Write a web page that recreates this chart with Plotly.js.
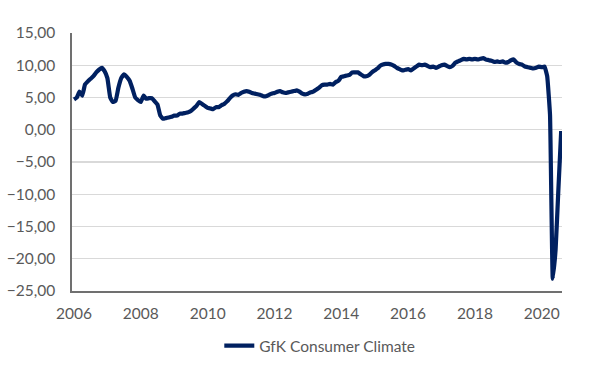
<!DOCTYPE html>
<html>
<head>
<meta charset="utf-8">
<script src="https://cdn.plot.ly/plotly-3.0.1.min.js"></script>
<style>
  html, body { margin: 0; padding: 0; background: #ffffff; }
  #chart { width: 615px; height: 365px; }
</style>
</head>
<body>
<div id="chart"></div>
<script>
// Monthly series, January 2006 to August 2020
const startYear = 2006;
const seriesName = "GfK Consumer Climate";
const values2006 = [4.7, 5.0, 5.9, 5.3, 7.0, 7.5, 7.9, 8.3, 8.9, 9.3, 9.6, 9.1];
const values2007 = [8.0, 5.0, 4.3, 4.5, 6.5, 8.0, 8.6, 8.2, 7.6, 6.4, 5.0, 4.6];
const values2008 = [4.3, 5.3, 4.8, 4.9, 4.9, 4.4, 3.9, 2.2, 1.7, 1.8, 1.9, 2.0];
const values2009 = [2.2, 2.2, 2.5, 2.5, 2.6, 2.7, 2.9, 3.3, 3.7, 4.3, 4.0, 3.7];
const values2010 = [3.4, 3.3, 3.2, 3.5, 3.5, 3.8, 4.0, 4.4, 4.9, 5.3, 5.5, 5.4];
const values2011 = [5.7, 5.9, 6.0, 5.9, 5.7, 5.6, 5.5, 5.4, 5.2, 5.2, 5.4, 5.6];
const values2012 = [5.7, 5.9, 6.0, 5.8, 5.7, 5.8, 5.9, 6.0, 6.1, 5.9, 5.6, 5.5];
const values2013 = [5.6, 5.8, 5.9, 6.2, 6.5, 6.9, 7.0, 7.0, 7.1, 7.0, 7.4, 7.6];
const values2014 = [8.2, 8.3, 8.4, 8.5, 8.9, 8.9, 8.9, 8.6, 8.3, 8.3, 8.5, 8.9];
const values2015 = [9.2, 9.5, 9.9, 10.1, 10.2, 10.2, 10.1, 9.9, 9.6, 9.4, 9.2, 9.3];
const values2016 = [9.4, 9.2, 9.5, 9.8, 10.1, 10.0, 10.1, 9.9, 9.7, 9.8, 9.6, 9.8];
const values2017 = [10.0, 10.1, 9.9, 9.7, 9.9, 10.4, 10.6, 10.8, 11.0, 10.9, 11.0, 10.9];
const values2018 = [11.0, 10.9, 11.0, 11.1, 10.9, 10.8, 10.7, 10.5, 10.6, 10.5, 10.6, 10.4];
const values2019 = [10.5, 10.8, 10.9, 10.4, 10.2, 10.1, 9.8, 9.7, 9.6, 9.5, 9.6, 9.8];
const values2020 = [9.7, 9.8, 8.3, 2.3, -23.1, -18.6, -9.4, -0.2];

const yearlyValues = [values2006, values2007, values2008, values2009, values2010,
  values2011, values2012, values2013, values2014, values2015, values2016,
  values2017, values2018, values2019, values2020];

const tickYears = ["2006", "2008", "2010", "2012", "2014", "2016", "2018", "2020"];
const yTicks = [-25, -20, -15, -10, -5, 0, 5, 10, 15];

const dates = [];
const values = [];
yearlyValues.forEach((arr, yi) => {
  arr.forEach((v, mi) => {
    const mm = String(mi + 1).padStart(2, "0");
    dates.push((startYear + yi) + "-" + mm + "-01");
    values.push(v);
  });
});

const fontFamily = "Lato, 'Open Sans', sans-serif";
const grey = "#595959";

const trace = {
  x: dates,
  y: values,
  type: "scatter",
  mode: "lines",
  name: seriesName,
  line: { color: "#002060", width: 4.2, shape: "spline", smoothing: 0.3 },
  hoverinfo: "skip"
};

const layout = {
  width: 615,
  height: 365,
  margin: { l: 72, r: 53, t: 33, b: 74 },
  paper_bgcolor: "#ffffff",
  plot_bgcolor: "#ffffff",
  separators: ",.",
  font: { family: fontFamily, size: 15.5, color: grey },
  showlegend: true,
  legend: {
    orientation: "h",
    xref: "container",
    yref: "container",
    x: 0.52, xanchor: "center",
    y: 0.052, yanchor: "middle",
    itemwidth: 30,
    font: { family: fontFamily, size: 15.5, color: grey },
    bgcolor: "rgba(0,0,0,0)"
  },
  xaxis: {
    type: "date",
    range: ["2005-12-10", "2020-08-10"],
    tickmode: "array",
    tickvals: tickYears.map(y => y + "-01-01"),
    ticktext: tickYears,
    showgrid: false,
    zeroline: false,
    showline: true,
    linecolor: "#707070",
    linewidth: 1.6,
    ticks: "",
    ticklabelstandoff: 8,
    tickfont: { family: fontFamily, size: 15.5, color: grey }
  },
  yaxis: {
    range: [-25, 15],
    tickmode: "array",
    tickvals: yTicks,
    tickformat: ".2f",
    showgrid: true,
    gridcolor: "#d9d9d9",
    gridwidth: 1.3,
    zeroline: false,
    showline: true,
    linecolor: "#707070",
    linewidth: 1.6,
    ticks: "",
    ticklabelstandoff: 12,
    tickfont: { family: fontFamily, size: 15.5, color: grey }
  }
};

Plotly.newPlot("chart", [trace], layout, { displayModeBar: false, staticPlot: true });
</script>
</body>
</html>
